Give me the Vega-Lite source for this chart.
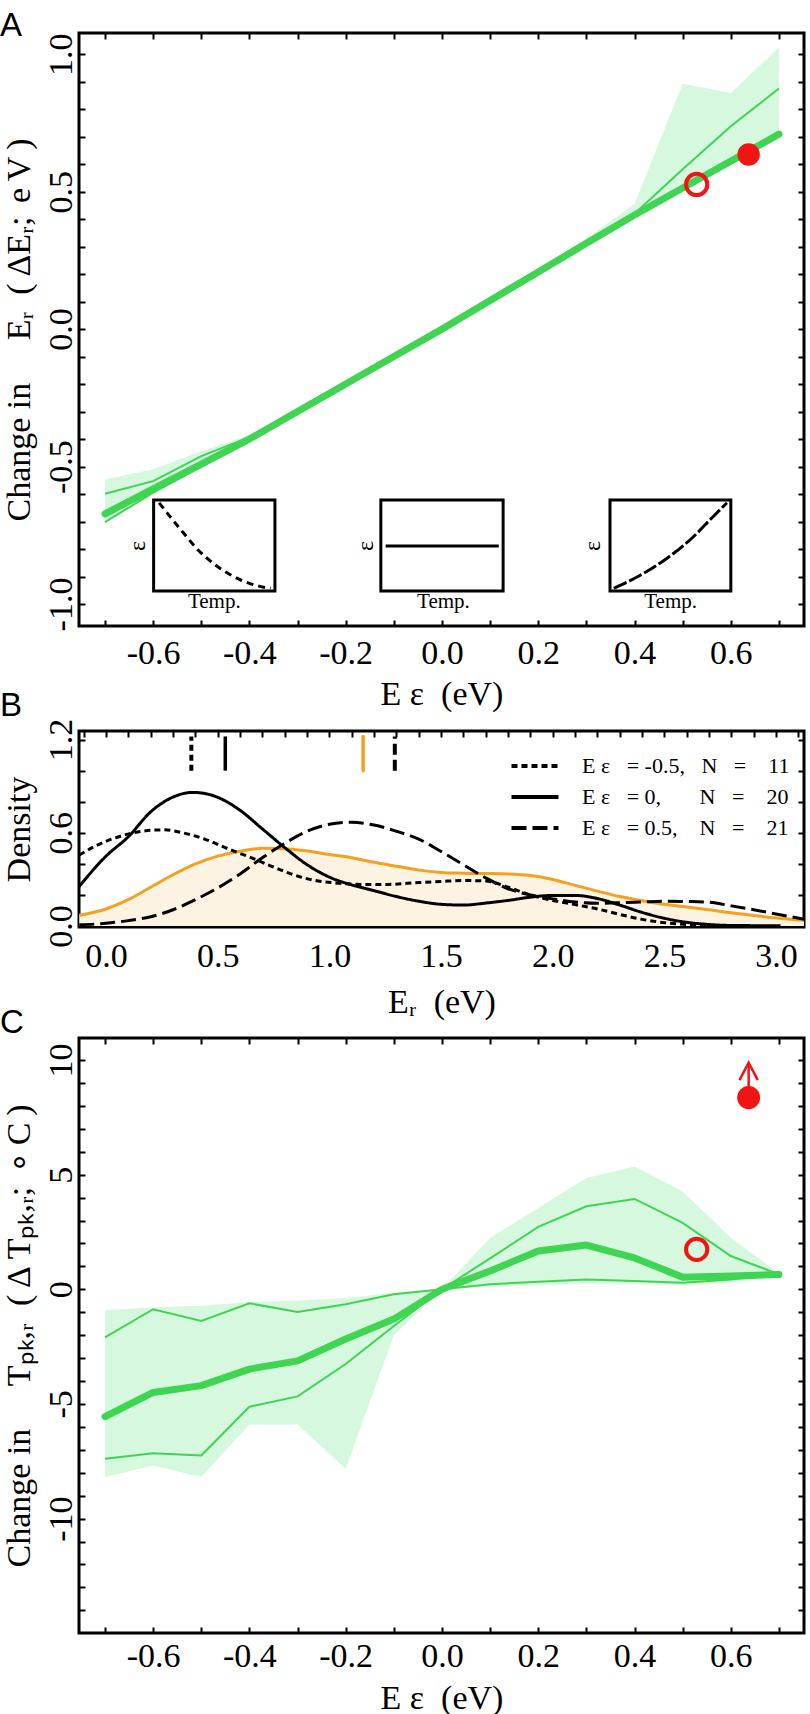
{
  "$schema": "https://vega.github.io/schema/vega-lite/v6.json",
  "background": "white",
  "padding": {"left": -2, "top": 8, "right": 0, "bottom": 0},
  "config": {
    "view": {"stroke": "black", "strokeWidth": 3},
    "axis": {"domain": false, "grid": false, "ticks": true, "tickColor": "black", "tickWidth": 2, "tickSize": -6, "minExtent": 0, "labelFont": "Liberation Serif", "labelFontSize": 34, "labelColor": "black", "labelFlush": false, "labelOverlap": false, "titleFont": "Liberation Serif", "titleFontSize": 34, "titleFontWeight": "normal", "titleColor": "black"},
    "title": {"font": "Liberation Sans", "fontSize": 33, "fontWeight": "normal", "color": "black", "anchor": "start", "frame": "group"},
    "text": {"font": "Liberation Serif", "color": "black"}
  },
  "datasets": {
    "A": [
      {"x": -0.7, "med": -0.672, "lo": -0.702, "hi": -0.599, "blo": -0.705, "bhi": -0.547},
      {"x": -0.6, "med": -0.581, "lo": -0.595, "hi": -0.553, "blo": -0.6, "bhi": -0.51},
      {"x": -0.5, "med": -0.491, "lo": -0.5, "hi": -0.462, "blo": -0.505, "bhi": -0.444},
      {"x": -0.4, "med": -0.4, "lo": -0.405, "hi": -0.393, "blo": -0.41, "bhi": -0.385},
      {"x": -0.3, "med": -0.3, "lo": -0.305, "hi": -0.296, "blo": -0.31, "bhi": -0.29},
      {"x": -0.2, "med": -0.2, "lo": -0.204, "hi": -0.196, "blo": -0.21, "bhi": -0.19},
      {"x": -0.1, "med": -0.1, "lo": -0.103, "hi": -0.098, "blo": -0.108, "bhi": -0.094},
      {"x": 0, "med": 0, "lo": 0, "hi": 0, "blo": -0.005, "bhi": 0.005},
      {"x": 0.1, "med": 0.104, "lo": 0.102, "hi": 0.106, "blo": 0.098, "bhi": 0.11},
      {"x": 0.2, "med": 0.208, "lo": 0.205, "hi": 0.21, "blo": 0.2, "bhi": 0.218},
      {"x": 0.3, "med": 0.312, "lo": 0.31, "hi": 0.315, "blo": 0.305, "bhi": 0.33},
      {"x": 0.4, "med": 0.415, "lo": 0.41, "hi": 0.42, "blo": 0.405, "bhi": 0.455},
      {"x": 0.5, "med": 0.513, "lo": 0.508, "hi": 0.581, "blo": 0.5, "bhi": 0.892},
      {"x": 0.6, "med": 0.611, "lo": 0.606, "hi": 0.738, "blo": 0.6, "bhi": 0.859},
      {"x": 0.7, "med": 0.709, "lo": 0.705, "hi": 0.875, "blo": 0.7, "bhi": 1.025}
    ],
    "Aopen": [{"x": 0.529, "y": 0.526}],
    "Afill": [{"x": 0.637, "y": 0.635}],
    "box": [
      {"x1": -0.599, "x2": -0.347, "y1": -0.953, "y2": -0.622},
      {"x1": -0.127, "x2": 0.127, "y1": -0.953, "y2": -0.622},
      {"x1": 0.349, "x2": 0.6, "y1": -0.953, "y2": -0.622}
    ],
    "dec": [
      {"x": -0.5875, "y": -0.632}, {"x": -0.546, "y": -0.7225}, {"x": -0.5045, "y": -0.807},
      {"x": -0.463, "y": -0.868}, {"x": -0.421, "y": -0.91}, {"x": -0.38, "y": -0.935}, {"x": -0.356, "y": -0.943}
    ],
    "flat": [{"x": -0.117, "y": -0.789}, {"x": 0.118, "y": -0.789}],
    "inc": [
      {"x": 0.357, "y": -0.943}, {"x": 0.409, "y": -0.898}, {"x": 0.464, "y": -0.838},
      {"x": 0.52, "y": -0.759}, {"x": 0.561, "y": -0.686}, {"x": 0.592, "y": -0.632}
    ],
    "temp": [
      {"x": -0.473, "y": -1.015, "t": "Temp."},
      {"x": 0.003, "y": -1.015, "t": "Temp."},
      {"x": 0.475, "y": -1.015, "t": "Temp."}
    ],
    "eps": [
      {"x": -0.631, "y": -0.789, "t": "ε"},
      {"x": -0.157, "y": -0.789, "t": "ε"},
      {"x": 0.313, "y": -0.789, "t": "ε"}
    ],
    "Bcurves": [
      {"x": -0.12, "d": 0.255, "grp": "0"}, {"x": 0.0, "d": 0.45, "grp": "0"}, {"x": 0.1, "d": 0.575, "grp": "0"},
      {"x": 0.2, "d": 0.735, "grp": "0"}, {"x": 0.3, "d": 0.83, "grp": "0"}, {"x": 0.39, "d": 0.86, "grp": "0"},
      {"x": 0.49, "d": 0.834, "grp": "0"}, {"x": 0.6, "d": 0.745, "grp": "0"}, {"x": 0.7, "d": 0.625, "grp": "0"},
      {"x": 0.8, "d": 0.505, "grp": "0"}, {"x": 0.9, "d": 0.395, "grp": "0"}, {"x": 1.0, "d": 0.315, "grp": "0"},
      {"x": 1.1, "d": 0.265, "grp": "0"}, {"x": 1.2, "d": 0.228, "grp": "0"}, {"x": 1.3, "d": 0.19, "grp": "0"},
      {"x": 1.4, "d": 0.16, "grp": "0"}, {"x": 1.5, "d": 0.14, "grp": "0"}, {"x": 1.6, "d": 0.135, "grp": "0"},
      {"x": 1.7, "d": 0.148, "grp": "0"}, {"x": 1.8, "d": 0.165, "grp": "0"}, {"x": 1.9, "d": 0.186, "grp": "0"},
      {"x": 2.0, "d": 0.197, "grp": "0"}, {"x": 2.1, "d": 0.197, "grp": "0"}, {"x": 2.2, "d": 0.177, "grp": "0"},
      {"x": 2.3, "d": 0.135, "grp": "0"}, {"x": 2.4, "d": 0.088, "grp": "0"}, {"x": 2.5, "d": 0.05, "grp": "0"},
      {"x": 2.6, "d": 0.024, "grp": "0"}, {"x": 2.7, "d": 0.01, "grp": "0"}, {"x": 2.8, "d": 0.004, "grp": "0"},
      {"x": 3.02, "d": 0.002, "grp": "0"},
      {"x": -0.12, "d": 0.457, "grp": "-0.5"}, {"x": -0.04, "d": 0.52, "grp": "-0.5"}, {"x": 0.08, "d": 0.585, "grp": "-0.5"},
      {"x": 0.17, "d": 0.612, "grp": "-0.5"}, {"x": 0.26, "d": 0.619, "grp": "-0.5"}, {"x": 0.35, "d": 0.598, "grp": "-0.5"},
      {"x": 0.45, "d": 0.555, "grp": "-0.5"}, {"x": 0.55, "d": 0.495, "grp": "-0.5"}, {"x": 0.65, "d": 0.44, "grp": "-0.5"},
      {"x": 0.75, "d": 0.38, "grp": "-0.5"}, {"x": 0.85, "d": 0.325, "grp": "-0.5"}, {"x": 0.95, "d": 0.29, "grp": "-0.5"},
      {"x": 1.05, "d": 0.275, "grp": "-0.5"}, {"x": 1.15, "d": 0.268, "grp": "-0.5"}, {"x": 1.26, "d": 0.268, "grp": "-0.5"},
      {"x": 1.4, "d": 0.28, "grp": "-0.5"}, {"x": 1.5, "d": 0.287, "grp": "-0.5"}, {"x": 1.6, "d": 0.293, "grp": "-0.5"},
      {"x": 1.7, "d": 0.29, "grp": "-0.5"}, {"x": 1.8, "d": 0.25, "grp": "-0.5"}, {"x": 1.9, "d": 0.2, "grp": "-0.5"},
      {"x": 2.0, "d": 0.165, "grp": "-0.5"}, {"x": 2.1, "d": 0.138, "grp": "-0.5"}, {"x": 2.2, "d": 0.11, "grp": "-0.5"},
      {"x": 2.3, "d": 0.075, "grp": "-0.5"}, {"x": 2.4, "d": 0.043, "grp": "-0.5"}, {"x": 2.5, "d": 0.022, "grp": "-0.5"},
      {"x": 2.6, "d": 0.01, "grp": "-0.5"}, {"x": 2.7, "d": 0.004, "grp": "-0.5"}, {"x": 2.85, "d": 0.002, "grp": "-0.5"},
      {"x": -0.12, "d": 0.008, "grp": "0.5"}, {"x": 0.0, "d": 0.018, "grp": "0.5"}, {"x": 0.1, "d": 0.035, "grp": "0.5"},
      {"x": 0.2, "d": 0.06, "grp": "0.5"}, {"x": 0.3, "d": 0.105, "grp": "0.5"}, {"x": 0.4, "d": 0.17, "grp": "0.5"},
      {"x": 0.5, "d": 0.245, "grp": "0.5"}, {"x": 0.6, "d": 0.335, "grp": "0.5"}, {"x": 0.7, "d": 0.44, "grp": "0.5"},
      {"x": 0.8, "d": 0.532, "grp": "0.5"}, {"x": 0.9, "d": 0.61, "grp": "0.5"}, {"x": 1.0, "d": 0.655, "grp": "0.5"},
      {"x": 1.1, "d": 0.668, "grp": "0.5"}, {"x": 1.2, "d": 0.65, "grp": "0.5"}, {"x": 1.3, "d": 0.61, "grp": "0.5"},
      {"x": 1.4, "d": 0.56, "grp": "0.5"}, {"x": 1.5, "d": 0.48, "grp": "0.5"}, {"x": 1.6, "d": 0.395, "grp": "0.5"},
      {"x": 1.7, "d": 0.31, "grp": "0.5"}, {"x": 1.8, "d": 0.24, "grp": "0.5"}, {"x": 1.9, "d": 0.2, "grp": "0.5"},
      {"x": 2.0, "d": 0.175, "grp": "0.5"}, {"x": 2.1, "d": 0.155, "grp": "0.5"}, {"x": 2.2, "d": 0.147, "grp": "0.5"},
      {"x": 2.3, "d": 0.15, "grp": "0.5"}, {"x": 2.4, "d": 0.155, "grp": "0.5"}, {"x": 2.5, "d": 0.16, "grp": "0.5"},
      {"x": 2.6, "d": 0.158, "grp": "0.5"}, {"x": 2.7, "d": 0.153, "grp": "0.5"}, {"x": 2.8, "d": 0.13, "grp": "0.5"},
      {"x": 2.9, "d": 0.105, "grp": "0.5"}, {"x": 3.0, "d": 0.078, "grp": "0.5"}, {"x": 3.14, "d": 0.04, "grp": "0.5"}
    ],
    "Borange": [
      {"x": -0.12, "d": 0.069}, {"x": 0.0, "d": 0.11}, {"x": 0.1, "d": 0.17}, {"x": 0.2, "d": 0.25},
      {"x": 0.3, "d": 0.33}, {"x": 0.4, "d": 0.4}, {"x": 0.5, "d": 0.45}, {"x": 0.6, "d": 0.482},
      {"x": 0.7, "d": 0.5}, {"x": 0.8, "d": 0.498}, {"x": 0.9, "d": 0.483}, {"x": 1.0, "d": 0.46},
      {"x": 1.1, "d": 0.44}, {"x": 1.2, "d": 0.41}, {"x": 1.3, "d": 0.385}, {"x": 1.4, "d": 0.36},
      {"x": 1.5, "d": 0.345}, {"x": 1.6, "d": 0.34}, {"x": 1.7, "d": 0.338}, {"x": 1.8, "d": 0.335},
      {"x": 1.9, "d": 0.325}, {"x": 2.0, "d": 0.3}, {"x": 2.1, "d": 0.262}, {"x": 2.2, "d": 0.225},
      {"x": 2.3, "d": 0.19}, {"x": 2.4, "d": 0.163}, {"x": 2.5, "d": 0.14}, {"x": 2.6, "d": 0.123},
      {"x": 2.7, "d": 0.105}, {"x": 2.8, "d": 0.085}, {"x": 2.9, "d": 0.068}, {"x": 3.0, "d": 0.052},
      {"x": 3.14, "d": 0.036}
    ],
    "C": [
      {"x": -0.7, "med": -5.55, "lo": -7.39, "hi": -2.1, "blo": -8.19, "bhi": -0.91},
      {"x": -0.6, "med": -4.5, "lo": -7.15, "hi": -0.87, "blo": -7.68, "bhi": -0.78},
      {"x": -0.5, "med": -4.2, "lo": -7.25, "hi": -1.38, "blo": -8.19, "bhi": -0.72},
      {"x": -0.4, "med": -3.48, "lo": -5.12, "hi": -0.61, "blo": -5.9, "bhi": -0.55},
      {"x": -0.3, "med": -3.12, "lo": -4.67, "hi": -0.99, "blo": -5.9, "bhi": -0.5},
      {"x": -0.2, "med": -2.17, "lo": -3.26, "hi": -0.65, "blo": -7.83, "bhi": -0.38},
      {"x": -0.1, "med": -1.3, "lo": -1.6, "hi": -0.22, "blo": -2.0, "bhi": -0.15},
      {"x": 0, "med": 0, "lo": 0, "hi": 0, "blo": 0, "bhi": 0},
      {"x": 0.1, "med": 0.8, "lo": 0.22, "hi": 1.35, "blo": 0.12, "bhi": 2.25},
      {"x": 0.2, "med": 1.67, "lo": 0.33, "hi": 2.72, "blo": 0.2, "bhi": 3.55},
      {"x": 0.3, "med": 1.93, "lo": 0.43, "hi": 3.62, "blo": 0.28, "bhi": 4.85},
      {"x": 0.4, "med": 1.37, "lo": 0.36, "hi": 3.94, "blo": 0.25, "bhi": 5.36},
      {"x": 0.5, "med": 0.53, "lo": 0.29, "hi": 2.9, "blo": 0.2, "bhi": 4.27},
      {"x": 0.6, "med": 0.58, "lo": 0.43, "hi": 1.45, "blo": 0.3, "bhi": 2.25},
      {"x": 0.7, "med": 0.65, "lo": 0.65, "hi": 0.65, "blo": 0.6, "bhi": 0.7}
    ],
    "Copen": [{"x": 0.529, "v": 1.74}],
    "Cfill": [{"x": 0.637, "v": 8.36}],
    "arrow": [
      {"x": 0.637, "v": 8.5, "seg": "shaft", "o": 1},
      {"x": 0.637, "v": 9.85, "seg": "shaft", "o": 2},
      {"x": 0.618, "v": 9.12, "seg": "head", "o": 1},
      {"x": 0.637, "v": 9.88, "seg": "head", "o": 2},
      {"x": 0.656, "v": 9.12, "seg": "head", "o": 3}
    ]
  },
  "spacing": 105,
  "bounds": "flush",
  "resolve": {"scale": {"strokeDash": "independent"}, "legend": {"strokeDash": "independent"}},
  "vconcat": [
    {
      "width": 725,
      "height": 593,
      "title": {"text": "A", "dx": -79, "offset": -36, "dy": 1, "baseline": "alphabetic"},
      "resolve": {"axis": {"x": "independent", "y": "independent"}},
      "layer": [
        {
          "mark": {"type": "rule", "color": "#aab2b2", "strokeWidth": 2},
          "encoding": {
            "x": {"datum": 0, "type": "quantitative", "scale": {"domain": [-0.754, 0.752], "nice": false, "zero": false},
              "axis": {"orient": "bottom", "values": [-0.7,-0.6,-0.5,-0.4,-0.3,-0.2,-0.1,0,0.1,0.2,0.3,0.4,0.5,0.6,0.7],
                "labelExpr": "abs(round(datum.value*10)) % 2 == 0 ? (datum.value < 0 ? '-' : '') + format(abs(datum.value), '.1f') : ''",
                "labelAngle": 0, "labelAlign": "center", "labelBaseline": "alphabetic", "labelPadding": 43,
                "title": "E\u00a0\u03b5\u00a0\u00a0(eV)", "titleY": 78, "titleBaseline": "alphabetic"}}
          }
        },
        {
          "mark": {"type": "rule", "color": "#aab2b2", "strokeWidth": 2},
          "encoding": {
            "y": {"datum": 0, "type": "quantitative", "scale": {"domain": [-1.08, 1.077], "nice": false, "zero": false},
              "axis": {"orient": "left", "values": [-1,-0.9,-0.8,-0.7,-0.6,-0.5,-0.4,-0.3,-0.2,-0.1,0,0.1,0.2,0.3,0.4,0.5,0.6,0.7,0.8,0.9,1],
                "labelExpr": "abs(round(datum.value*10)) % 5 == 0 ? (datum.value < 0 ? '-' : '') + format(abs(datum.value), '.1f') : ''",
                "labelAngle": 270, "labelAlign": "center", "labelBaseline": "alphabetic", "labelPadding": 14,
                "title": "Change in\u2003\u00a0E\u1d63\u2002(\u2009\u0394E\u1d63;\u2009\u2009e\u2009V\u2009)", "titleX": -50, "titleAngle": 270, "titleBaseline": "alphabetic"}}
          }
        },
        {
          "data": {"name": "A"},
          "mark": {"type": "area", "color": "#d5f8de", "opacity": 1},
          "encoding": {
            "x": {"field": "x", "type": "quantitative", "scale": {"domain": [-0.754, 0.752], "nice": false, "zero": false},
              "axis": {"orient": "top", "values": [-0.7,-0.6,-0.5,-0.4,-0.3,-0.2,-0.1,0,0.1,0.2,0.3,0.4,0.5,0.6,0.7], "labels": false, "title": null}},
            "y": {"field": "blo", "type": "quantitative", "scale": {"domain": [-1.08, 1.077], "nice": false, "zero": false},
              "axis": {"orient": "right", "values": [-1,-0.9,-0.8,-0.7,-0.6,-0.5,-0.4,-0.3,-0.2,-0.1,0,0.1,0.2,0.3,0.4,0.5,0.6,0.7,0.8,0.9,1], "labels": false, "title": null}},
            "y2": {"field": "bhi"}
          }
        },
        {
          "data": {"name": "A"},
          "mark": {"type": "line", "color": "#3fd452", "strokeWidth": 2},
          "encoding": {
            "x": {"field": "x", "type": "quantitative", "axis": null},
            "y": {"field": "hi", "type": "quantitative", "axis": null}
          }
        },
        {
          "data": {"name": "A"},
          "mark": {"type": "line", "color": "#3fd452", "strokeWidth": 2},
          "encoding": {
            "x": {"field": "x", "type": "quantitative", "axis": null},
            "y": {"field": "lo", "type": "quantitative", "axis": null}
          }
        },
        {
          "data": {"name": "A"},
          "mark": {"type": "line", "color": "#3fd452", "strokeWidth": 7, "strokeCap": "round", "strokeJoin": "round"},
          "encoding": {
            "x": {"field": "x", "type": "quantitative", "axis": null},
            "y": {"field": "med", "type": "quantitative", "axis": null}
          }
        },
        {
          "data": {"name": "Aopen"},
          "mark": {"type": "point", "shape": "circle", "filled": false, "color": "#f21414", "strokeWidth": 4, "size": 452, "opacity": 1},
          "encoding": {
            "x": {"field": "x", "type": "quantitative", "axis": null},
            "y": {"field": "y", "type": "quantitative", "axis": null}
          }
        },
        {
          "data": {"name": "Afill"},
          "mark": {"type": "point", "shape": "circle", "filled": true, "color": "#f21414", "size": 500, "opacity": 1},
          "encoding": {
            "x": {"field": "x", "type": "quantitative", "axis": null},
            "y": {"field": "y", "type": "quantitative", "axis": null}
          }
        },
        {
          "data": {"name": "box"},
          "mark": {"type": "rect", "fill": "white", "stroke": "black", "strokeWidth": 3},
          "encoding": {
            "x": {"field": "x1", "type": "quantitative", "axis": null},
            "x2": {"field": "x2"},
            "y": {"field": "y1", "type": "quantitative", "axis": null},
            "y2": {"field": "y2"}
          }
        },
        {
          "data": {"name": "dec"},
          "mark": {"type": "line", "color": "black", "strokeWidth": 3, "strokeDash": [7, 5], "interpolate": "monotone"},
          "encoding": {
            "x": {"field": "x", "type": "quantitative", "axis": null},
            "y": {"field": "y", "type": "quantitative", "axis": null}
          }
        },
        {
          "data": {"name": "flat"},
          "mark": {"type": "line", "color": "black", "strokeWidth": 3},
          "encoding": {
            "x": {"field": "x", "type": "quantitative", "axis": null},
            "y": {"field": "y", "type": "quantitative", "axis": null}
          }
        },
        {
          "data": {"name": "inc"},
          "mark": {"type": "line", "color": "black", "strokeWidth": 3, "strokeDash": [14, 3], "interpolate": "monotone"},
          "encoding": {
            "x": {"field": "x", "type": "quantitative", "axis": null},
            "y": {"field": "y", "type": "quantitative", "axis": null}
          }
        },
        {
          "data": {"name": "temp"},
          "mark": {"type": "text", "fontSize": 21, "align": "center", "baseline": "alphabetic"},
          "encoding": {
            "x": {"field": "x", "type": "quantitative", "axis": null},
            "y": {"field": "y", "type": "quantitative", "axis": null},
            "text": {"field": "t"}
          }
        },
        {
          "data": {"name": "eps"},
          "mark": {"type": "text", "fontSize": 24, "align": "center", "baseline": "middle", "angle": 270},
          "encoding": {
            "x": {"field": "x", "type": "quantitative", "axis": null},
            "y": {"field": "y", "type": "quantitative", "axis": null},
            "text": {"field": "t"}
          }
        }
      ]
    },
    {
      "spacing": 111,
      "bounds": "flush",
      "resolve": {"scale": {"strokeDash": "independent"}, "legend": {"strokeDash": "independent"}},
      "vconcat": [
        {
          "width": 725,
          "height": 196,
          "title": {"text": "B", "dx": -79, "offset": -31, "baseline": "alphabetic"},
          "resolve": {"axis": {"x": "independent", "y": "independent"}},
          "layer": [
            {
              "data": {"name": "Borange"},
              "mark": {"type": "area", "color": "#fdf3e2", "opacity": 1, "interpolate": "monotone", "clip": true},
              "encoding": {
                "x": {"field": "x", "type": "quantitative", "scale": {"domain": [-0.121, 3.125], "nice": false, "zero": false},
                  "axis": {"orient": "bottom", "values": [-0.1,0,0.1,0.2,0.3,0.4,0.5,0.6,0.7,0.8,0.9,1,1.1,1.2,1.3,1.4,1.5,1.6,1.7,1.8,1.9,2,2.1,2.2,2.3,2.4,2.5,2.6,2.7,2.8,2.9,3,3.1],
                    "labelExpr": "abs(round(datum.value*10)) % 5 == 0 ? (datum.value < 0 ? '-' : '') + format(abs(datum.value), '.1f') : ''",
                    "labelAngle": 0, "labelAlign": "center", "labelBaseline": "alphabetic", "labelPadding": 45,
                    "title": "E\u1d63\u00a0\u00a0(eV)", "titleY": 85, "titleBaseline": "alphabetic"}},
                "y": {"field": "d", "type": "quantitative", "scale": {"domain": [-0.006, 1.255], "nice": false, "zero": false},
                  "axis": {"orient": "left", "values": [0,0.2,0.4,0.6,0.8,1,1.2],
                    "labelExpr": "abs(round(datum.value*10)) % 6 == 0 ? format(abs(datum.value), '.1f') : ''",
                    "labelAngle": 270, "labelAlign": "center", "labelBaseline": "alphabetic", "labelPadding": 14,
                    "title": "Density", "titleX": -50, "titleAngle": 270, "titleBaseline": "alphabetic"}}
              }
            },
            {
              "data": {"name": "Borange"},
              "mark": {"type": "line", "color": "#f5a11f", "strokeWidth": 3, "interpolate": "monotone", "clip": true},
              "encoding": {
                "x": {"field": "x", "type": "quantitative",
                  "axis": {"orient": "top", "values": [-0.1,0,0.1,0.2,0.3,0.4,0.5,0.6,0.7,0.8,0.9,1,1.1,1.2,1.3,1.4,1.5,1.6,1.7,1.8,1.9,2,2.1,2.2,2.3,2.4,2.5,2.6,2.7,2.8,2.9,3,3.1], "labels": false, "title": null}},
                "y": {"field": "d", "type": "quantitative",
                  "axis": {"orient": "right", "values": [0,0.2,0.4,0.6,0.8,1,1.2], "labels": false, "title": null}}
              }
            },
            {
              "data": {"name": "Bcurves"},
              "mark": {"type": "line", "color": "black", "strokeWidth": 3, "interpolate": "monotone", "clip": true},
              "encoding": {
                "x": {"field": "x", "type": "quantitative", "axis": null},
                "y": {"field": "d", "type": "quantitative", "axis": null},
                "strokeDash": {"field": "grp", "type": "nominal",
                  "scale": {"domain": ["-0.5", "0", "0.5"], "range": [[6, 4], [1, 0], [15, 6]]},
                  "legend": {"orient": "none", "legendX": 442, "legendY": 21, "title": null, "direction": "vertical",
                    "symbolType": "M-2,0H2", "symbolSize": 552, "symbolStrokeWidth": 4, "symbolStrokeColor": "black",
                    "labelFont": "Liberation Serif", "labelFontSize": 22, "labelColor": "black", "labelLimit": 400, "labelOffset": 33, "rowPadding": 6,
                    "labelExpr": "datum.label == '-0.5' ? 'E\u00a0ε\u2002\u00a0=\u00a0-0.5,\u2002\u00a0N\u2002\u00a0=\u2002\u00a0\u00a011' : datum.label == '0' ? 'E\u00a0ε\u2002\u00a0=\u00a00,\u2003\u2002\u00a0N\u2002\u00a0=\u2002\u00a0\u00a020' : 'E\u00a0ε\u2002\u00a0=\u00a00.5,\u2003N\u2002\u00a0=\u2002\u00a0\u00a021'"}}
              }
            },
            {
              "data": {"values": [{"x": 0.382}]},
              "mark": {"type": "rule", "color": "black", "strokeWidth": 4, "strokeDash": [6, 4]},
              "encoding": {
                "x": {"field": "x", "type": "quantitative", "axis": null},
                "y": {"datum": 1.0, "type": "quantitative", "axis": null},
                "y2": {"datum": 1.22}
              }
            },
            {
              "data": {"values": [{"x": 0.534}]},
              "mark": {"type": "rule", "color": "black", "strokeWidth": 3.5},
              "encoding": {
                "x": {"field": "x", "type": "quantitative", "axis": null},
                "y": {"datum": 1.0, "type": "quantitative", "axis": null},
                "y2": {"datum": 1.22}
              }
            },
            {
              "data": {"values": [{"x": 1.151}]},
              "mark": {"type": "rule", "color": "#f5a11f", "strokeWidth": 3.5, "strokeCap": "round"},
              "encoding": {
                "x": {"field": "x", "type": "quantitative", "axis": null},
                "y": {"datum": 1.0, "type": "quantitative", "axis": null},
                "y2": {"datum": 1.22}
              }
            },
            {
              "data": {"values": [{"x": 1.293}]},
              "mark": {"type": "rule", "color": "black", "strokeWidth": 4, "strokeDash": [11, 5]},
              "encoding": {
                "x": {"field": "x", "type": "quantitative", "axis": null},
                "y": {"datum": 1.0, "type": "quantitative", "axis": null},
                "y2": {"datum": 1.22}
              }
            }
          ]
        },
        {
          "width": 725,
          "height": 595,
          "title": {"text": "C", "dx": -79, "offset": -29, "baseline": "alphabetic"},
          "resolve": {"axis": {"x": "independent", "y": "independent"}},
          "layer": [
            {
              "mark": {"type": "rule", "color": "#aab2b2", "strokeWidth": 2},
              "encoding": {
                "x": {"datum": 0, "type": "quantitative", "scale": {"domain": [-0.754, 0.752], "nice": false, "zero": false},
                  "axis": {"orient": "bottom", "values": [-0.7,-0.6,-0.5,-0.4,-0.3,-0.2,-0.1,0,0.1,0.2,0.3,0.4,0.5,0.6,0.7],
                    "labelExpr": "abs(round(datum.value*10)) % 2 == 0 ? (datum.value < 0 ? '-' : '') + format(abs(datum.value), '.1f') : ''",
                    "labelAngle": 0, "labelAlign": "center", "labelBaseline": "alphabetic", "labelPadding": 39,
                    "title": "E\u00a0\u03b5\u00a0\u00a0(eV)", "titleY": 75, "titleBaseline": "alphabetic"}}
              }
            },
            {
              "mark": {"type": "rule", "color": "#aab2b2", "strokeWidth": 2},
              "encoding": {
                "y": {"datum": 0, "type": "quantitative", "scale": {"domain": [-14.99, 10.96], "nice": false, "zero": false},
                  "axis": {"orient": "left", "values": [-14,-13,-12,-11,-10,-9,-8,-7,-6,-5,-4,-3,-2,-1,0,1,2,3,4,5,6,7,8,9,10],
                    "labelExpr": "abs(round(datum.value)) % 5 == 0 ? (datum.value < 0 ? '-' : '') + format(abs(datum.value), 'd') : ''",
                    "labelAngle": 270, "labelAlign": "center", "labelBaseline": "alphabetic", "labelPadding": 14,
                    "title": "Change in\u2003\u00a0T\u209a\u2096,\u1d63\u2002(\u2009\u0394\u2009T\u209a\u2096,\u1d63;\u2009\u2009\u2218\u2009C\u2009)", "titleX": -50, "titleAngle": 270, "titleBaseline": "alphabetic"}}
              }
            },
            {
              "data": {"name": "C"},
              "mark": {"type": "area", "color": "#d5f8de", "opacity": 1},
              "encoding": {
                "x": {"field": "x", "type": "quantitative", "scale": {"domain": [-0.754, 0.752], "nice": false, "zero": false},
                  "axis": {"orient": "top", "values": [-0.7,-0.6,-0.5,-0.4,-0.3,-0.2,-0.1,0,0.1,0.2,0.3,0.4,0.5,0.6,0.7], "labels": false, "title": null}},
                "y": {"field": "blo", "type": "quantitative", "scale": {"domain": [-14.99, 10.96], "nice": false, "zero": false},
                  "axis": {"orient": "right", "values": [-14,-13,-12,-11,-10,-9,-8,-7,-6,-5,-4,-3,-2,-1,0,1,2,3,4,5,6,7,8,9,10], "labels": false, "title": null}},
                "y2": {"field": "bhi"}
              }
            },
            {
              "data": {"name": "C"},
              "mark": {"type": "line", "color": "#3fd452", "strokeWidth": 2},
              "encoding": {
                "x": {"field": "x", "type": "quantitative", "axis": null},
                "y": {"field": "hi", "type": "quantitative", "axis": null}
              }
            },
            {
              "data": {"name": "C"},
              "mark": {"type": "line", "color": "#3fd452", "strokeWidth": 2},
              "encoding": {
                "x": {"field": "x", "type": "quantitative", "axis": null},
                "y": {"field": "lo", "type": "quantitative", "axis": null}
              }
            },
            {
              "data": {"name": "C"},
              "mark": {"type": "line", "color": "#3fd452", "strokeWidth": 7, "strokeCap": "round", "strokeJoin": "round"},
              "encoding": {
                "x": {"field": "x", "type": "quantitative", "axis": null},
                "y": {"field": "med", "type": "quantitative", "axis": null}
              }
            },
            {
              "data": {"name": "Copen"},
              "mark": {"type": "point", "shape": "circle", "filled": false, "color": "#f21414", "strokeWidth": 4, "size": 452, "opacity": 1},
              "encoding": {
                "x": {"field": "x", "type": "quantitative", "axis": null},
                "y": {"field": "v", "type": "quantitative", "axis": null}
              }
            },
            {
              "data": {"name": "Cfill"},
              "mark": {"type": "point", "shape": "circle", "filled": true, "color": "#f21414", "size": 530, "opacity": 1},
              "encoding": {
                "x": {"field": "x", "type": "quantitative", "axis": null},
                "y": {"field": "v", "type": "quantitative", "axis": null}
              }
            },
            {
              "data": {"name": "arrow"},
              "mark": {"type": "line", "color": "#f21414", "strokeWidth": 2.5},
              "encoding": {
                "x": {"field": "x", "type": "quantitative", "axis": null},
                "y": {"field": "v", "type": "quantitative", "axis": null},
                "detail": {"field": "seg"},
                "order": {"field": "o", "type": "quantitative"}
              }
            }
          ]
        }
      ]
    }
  ]
}
